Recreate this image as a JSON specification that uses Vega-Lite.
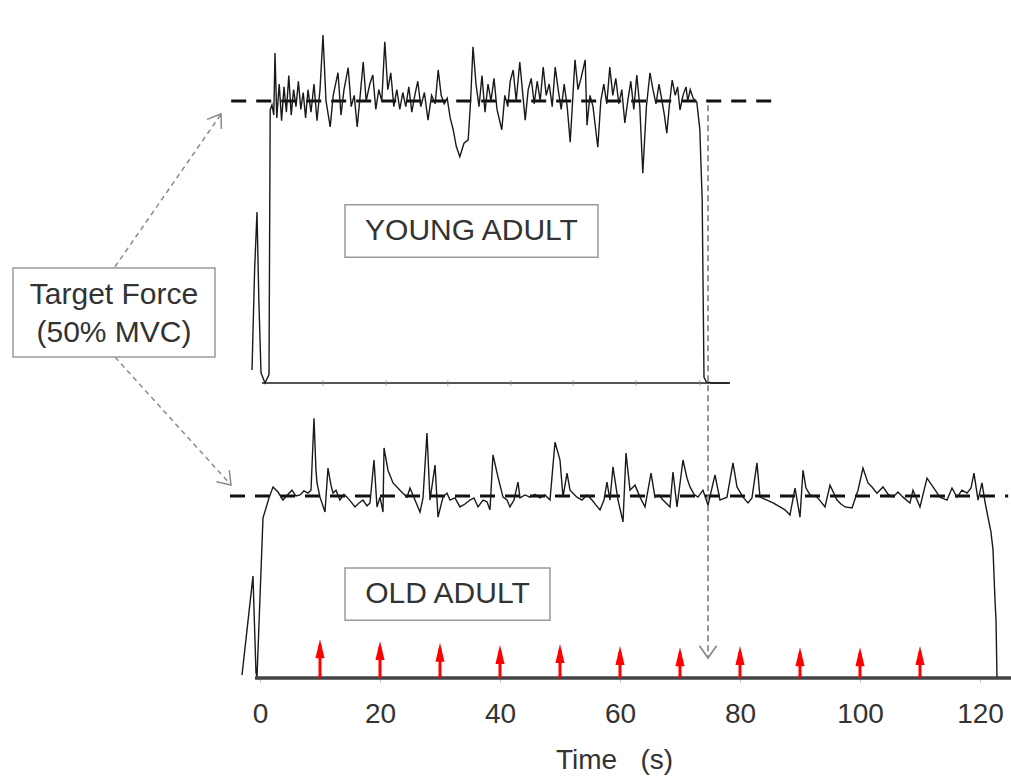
{
  "$schema": "https://vega.github.io/schema/vega-lite/v6.json",
  "width": 1011,
  "height": 678,
  "autosize": "none",
  "padding": {"left": 0, "top": 0, "right": 0, "bottom": 98},
  "background": "white",
  "config": {"view": {"stroke": null}, "font": "Liberation Sans"},
  "encoding": {
    "x": {
      "field": "t",
      "type": "quantitative",
      "scale": {"domain": [-43.333, 125.167], "nice": false, "zero": false},
      "axis": {
        "values": [0, 20, 40, 60, 80, 100, 120],
        "domain": false,
        "grid": false,
        "ticks": true,
        "tickSize": 4,
        "tickColor": "#bbbbbb",
        "labelFontSize": 28,
        "labelFont": "Liberation Sans",
        "labelColor": "#333333",
        "labelPadding": 18,
        "labelFlush": false,
        "title": "Time\u00a0\u00a0\u00a0(s)",
        "titleFont": "Liberation Sans",
        "titleFontSize": 28,
        "titleFontWeight": "normal",
        "titleColor": "#333333",
        "titleX": 614,
        "titleY": 82,
        "titleBaseline": "middle"
      }
    }
  },
  "layer": [
    {
      "encoding": {
        "y": {"field": "v", "type": "quantitative", "scale": {"domain": [-52.3, 67.9], "nice": false, "zero": false}, "axis": null}
      },
      "layer": [
        {
          "data": {"values": [{"t": 0.33, "t2": 78.3, "v": 0}]},
          "mark": {"type": "rule", "stroke": "#555555", "strokeWidth": 2},
          "encoding": {"x2": {"field": "t2"}}
        },
        {
          "data": {"values": [{"t": 10.5, "v": 0}, {"t": 21, "v": 0}, {"t": 31.3, "v": 0}, {"t": 41.8, "v": 0}, {"t": 52.2, "v": 0}, {"t": 62.7, "v": 0}, {"t": 73.3, "v": 0}]},
          "mark": {"type": "tick", "orient": "vertical", "size": 6, "thickness": 1, "color": "#888888"},
          "encoding": {}
        },
        {
          "data": {"values": [{"t": -4.8, "t2": 85.8, "v": 50}]},
          "mark": {"type": "rule", "stroke": "#111111", "strokeWidth": 3, "strokeDash": [15, 10]},
          "encoding": {"x2": {"field": "t2"}}
        },
        {
          "data": {"values": [
            {"t":-1.33,"v":2.3},{"t":-0.9,"v":20},{"t":-0.5,"v":30.3},{"t":-0.2,"v":15},{"t":0.17,"v":1.8},{"t":0.83,"v":0},{"t":1.5,"v":1.5},{"t":1.7,"v":48.4},{"t":2.0,"v":49.3},{"t":2.3,"v":47.5},{"t":2.5,"v":58.5},{"t":2.8,"v":47},{"t":3.2,"v":53},{"t":3.6,"v":46.5},{"t":4.0,"v":52.5},{"t":4.4,"v":48},{"t":4.8,"v":54.5},{"t":5.2,"v":47.5},{"t":5.6,"v":52},{"t":6.0,"v":49},{"t":6.4,"v":53.5},{"t":6.8,"v":48.5},{"t":7.2,"v":51.5},{"t":7.6,"v":47},{"t":8.0,"v":52},{"t":8.5,"v":48},{"t":9.0,"v":53},{"t":9.5,"v":46.5},{"t":10.0,"v":52},{"t":10.5,"v":61.7},{"t":11.0,"v":50},{"t":11.7,"v":45.4},{"t":12.2,"v":51},{"t":13.0,"v":55},{"t":13.5,"v":47.5},{"t":14.0,"v":52},{"t":14.7,"v":55.9},{"t":15.2,"v":49},{"t":15.7,"v":51},{"t":16.2,"v":45.4},{"t":16.7,"v":51},{"t":17.2,"v":56.9},{"t":17.7,"v":50},{"t":18.3,"v":53},{"t":18.8,"v":54.6},{"t":19.3,"v":48.5},{"t":19.8,"v":52},{"t":20.3,"v":50},{"t":20.8,"v":60.5},{"t":21.3,"v":52},{"t":21.8,"v":55},{"t":22.3,"v":49},{"t":22.8,"v":52},{"t":23.3,"v":48.5},{"t":23.8,"v":51.5},{"t":24.3,"v":49},{"t":24.8,"v":52.5},{"t":25.3,"v":48},{"t":25.8,"v":51},{"t":26.3,"v":53.5},{"t":26.8,"v":49},{"t":27.4,"v":51.5},{"t":28.0,"v":46.6},{"t":28.6,"v":51},{"t":29.2,"v":49.5},{"t":29.7,"v":55.5},{"t":30.2,"v":51},{"t":30.7,"v":49.5},{"t":31.2,"v":50.5},{"t":31.7,"v":47},{"t":32.2,"v":44.9},{"t":32.7,"v":42},{"t":33.3,"v":40.1},{"t":34.0,"v":42.5},{"t":34.7,"v":43.1},{"t":35.1,"v":50},{"t":35.5,"v":59.6},{"t":36.0,"v":53},{"t":36.5,"v":49},{"t":37.0,"v":54.5},{"t":37.5,"v":48},{"t":38.0,"v":53},{"t":38.5,"v":50},{"t":39.0,"v":54},{"t":39.5,"v":48.5},{"t":40.3,"v":44.9},{"t":40.8,"v":51},{"t":41.3,"v":49},{"t":41.7,"v":53.5},{"t":42.2,"v":55.5},{"t":42.7,"v":50},{"t":43.3,"v":56.9},{"t":44.2,"v":46.6},{"t":44.7,"v":52},{"t":45.2,"v":54},{"t":45.7,"v":49.5},{"t":46.2,"v":53.5},{"t":46.7,"v":50},{"t":47.2,"v":56},{"t":47.7,"v":51},{"t":48.2,"v":53},{"t":48.7,"v":49},{"t":49.2,"v":56},{"t":49.7,"v":52},{"t":50.2,"v":48.5},{"t":50.7,"v":53},{"t":51.2,"v":49},{"t":51.7,"v":42.7},{"t":52.1,"v":50},{"t":52.5,"v":57.3},{"t":53.0,"v":52},{"t":53.5,"v":54},{"t":54.2,"v":57.3},{"t":54.5,"v":45.7},{"t":55.0,"v":51},{"t":55.5,"v":49},{"t":56.3,"v":41.8},{"t":56.8,"v":50},{"t":57.3,"v":53},{"t":57.8,"v":49.5},{"t":58.3,"v":56},{"t":58.8,"v":51},{"t":59.3,"v":54},{"t":59.8,"v":49.5},{"t":60.3,"v":52},{"t":60.8,"v":46.1},{"t":61.3,"v":50},{"t":61.8,"v":53.5},{"t":62.3,"v":48.5},{"t":62.8,"v":54.6},{"t":63.3,"v":49},{"t":63.8,"v":37.2},{"t":64.4,"v":49},{"t":65.0,"v":55},{"t":65.5,"v":52},{"t":66.0,"v":49.5},{"t":66.5,"v":53},{"t":67.0,"v":50},{"t":67.4,"v":47.5},{"t":67.8,"v":44.3},{"t":68.3,"v":50},{"t":68.7,"v":53.7},{"t":69.2,"v":51},{"t":69.6,"v":52.5},{"t":70.0,"v":48.4},{"t":70.5,"v":51},{"t":71.0,"v":52.5},{"t":71.3,"v":50},{"t":71.7,"v":52},{"t":72.2,"v":50.5},{"t":72.8,"v":49.8},{"t":73.3,"v":45},{"t":73.7,"v":32.4},{"t":74.0,"v":1},{"t":74.4,"v":0.2},{"t":75.5,"v":0},{"t":78.3,"v":0}
          ]},
          "mark": {"type": "line", "stroke": "#1a1a1a", "strokeWidth": 1.4},
          "encoding": {}
        },
        {
          "data": {"values": [{"t": -24.17, "v": 20.6, "t2": -6.6, "v2": 47.5}, {"t": -24.17, "v": 4.6, "t2": -4.9, "v2": -18.0}]},
          "mark": {"type": "rule", "stroke": "#8a8a8a", "strokeWidth": 1.5, "strokeDash": [5, 4]},
          "encoding": {"x2": {"field": "t2"}, "y2": {"field": "v2"}}
        },
        {
          "data": {"values": [{"t": -6.5, "v": 47.7}]},
          "mark": {"type": "point", "shape": "M-0.7,-1L0,0L0.7,-1", "filled": false, "stroke": "#8a8a8a", "strokeWidth": 1.5, "size": 600, "angle": 213.6, "opacity": 1},
          "encoding": {}
        },
        {
          "data": {"values": [{"t": -4.83, "v": -18.1}]},
          "mark": {"type": "point", "shape": "M-0.7,-1L0,0L0.7,-1", "filled": false, "stroke": "#8a8a8a", "strokeWidth": 1.5, "size": 600, "angle": 318.3, "opacity": 1},
          "encoding": {}
        },
        {
          "data": {"values": [{"t": -41.17, "t2": -7.5, "v": 20.4, "v2": 4.6}, {"t": 14.17, "t2": 56.33, "v": 31.6, "v2": 22.3}]},
          "mark": {"type": "rect", "fill": "white", "stroke": "#9a9a9a", "strokeWidth": 1.5},
          "encoding": {"x2": {"field": "t2"}, "y2": {"field": "v2"}}
        },
        {
          "data": {"values": [{"t": -24.33, "v": 15.6, "label": "Target Force\n(50% MVC)"}, {"t": 35.25, "v": 26.9, "label": "YOUNG ADULT"}]},
          "mark": {"type": "text", "fontSize": 30, "font": "Liberation Sans", "color": "#333333", "align": "center", "baseline": "middle", "lineBreak": "\n", "lineHeight": 38},
          "encoding": {"text": {"field": "label"}}
        }
      ]
    },
    {
      "encoding": {
        "y": {"field": "v", "type": "quantitative", "scale": {"domain": [0, 186.3], "nice": false, "zero": false}, "axis": null}
      },
      "layer": [
        {
          "data": {"values": [{"t": -5, "t2": 124.7, "v": 50}]},
          "mark": {"type": "rule", "stroke": "#111111", "strokeWidth": 3, "strokeDash": [15, 10]},
          "encoding": {"x2": {"field": "t2"}}
        },
        {
          "data": {"values": [
            {"t":-3,"v":0.8},{"t":-1.17,"v":28},{"t":-0.67,"v":1.5},{"t":-0.5,"v":0.3},{"t":0.5,"v":44},{"t":1,"v":46.7},{"t":1.5,"v":49.5},{"t":2.17,"v":52.5},{"t":3,"v":51.1},{"t":3.83,"v":48.9},{"t":4.67,"v":50.5},{"t":5.33,"v":51.6},{"t":6,"v":50},{"t":6.67,"v":50.3},{"t":7.33,"v":51.4},{"t":8,"v":50.8},{"t":8.5,"v":51.6},{"t":9,"v":71.4},{"t":9.33,"v":57.1},{"t":9.5,"v":53.6},{"t":10,"v":49.7},{"t":10.83,"v":45.6},{"t":11.33,"v":57.7},{"t":11.83,"v":53},{"t":12.17,"v":50.8},{"t":12.67,"v":51.6},{"t":13.33,"v":48.9},{"t":14,"v":50.5},{"t":14.5,"v":49.7},{"t":15.17,"v":48.4},{"t":15.83,"v":47},{"t":16.5,"v":48.1},{"t":17.17,"v":48.9},{"t":17.83,"v":47.3},{"t":18.33,"v":48.1},{"t":19,"v":59.9},{"t":19.5,"v":47},{"t":20,"v":49.7},{"t":20.5,"v":45.6},{"t":20.67,"v":63.2},{"t":21.33,"v":57.1},{"t":22.17,"v":53.6},{"t":23.33,"v":51.6},{"t":24,"v":50.5},{"t":24.5,"v":49.7},{"t":25,"v":52.2},{"t":25.83,"v":48.9},{"t":26.67,"v":45.6},{"t":27.17,"v":49.5},{"t":27.83,"v":67.3},{"t":28.33,"v":48.9},{"t":29.17,"v":58.5},{"t":29.67,"v":44.2},{"t":30.5,"v":49.7},{"t":31.17,"v":50.8},{"t":31.67,"v":48.9},{"t":32.5,"v":49.5},{"t":33.33,"v":47},{"t":34.17,"v":47.8},{"t":35,"v":48.9},{"t":35.67,"v":49.5},{"t":36.33,"v":47},{"t":37.17,"v":48.9},{"t":37.83,"v":48.4},{"t":38.33,"v":46.2},{"t":38.83,"v":61.3},{"t":39.67,"v":55.2},{"t":40.5,"v":49.7},{"t":41.17,"v":48.9},{"t":41.67,"v":47},{"t":42.33,"v":48.9},{"t":43,"v":53.8},{"t":43.33,"v":49.5},{"t":44.17,"v":50.3},{"t":45,"v":49.7},{"t":45.83,"v":50.5},{"t":46.67,"v":49.5},{"t":47.5,"v":50.3},{"t":48.33,"v":48.9},{"t":49.17,"v":64.8},{"t":50,"v":59.9},{"t":50.5,"v":49.7},{"t":51.17,"v":56.3},{"t":51.67,"v":51.6},{"t":52.83,"v":49.7},{"t":53.67,"v":48.9},{"t":54.5,"v":50.3},{"t":55.33,"v":48.9},{"t":56,"v":47.5},{"t":56.67,"v":46.2},{"t":57.33,"v":48.9},{"t":57.83,"v":53.8},{"t":58.33,"v":48.9},{"t":58.83,"v":58},{"t":59.67,"v":48.9},{"t":60.5,"v":42.9},{"t":61,"v":61.8},{"t":61.67,"v":51.6},{"t":62.5,"v":53},{"t":63.33,"v":49.7},{"t":64.17,"v":47},{"t":65.17,"v":56.3},{"t":65.83,"v":49.7},{"t":66.5,"v":50.3},{"t":67.17,"v":48.9},{"t":68.33,"v":47},{"t":68.83,"v":56.6},{"t":69.5,"v":47},{"t":70.5,"v":59.9},{"t":71.17,"v":54.9},{"t":71.67,"v":52.5},{"t":72.33,"v":50.5},{"t":73,"v":49.7},{"t":73.83,"v":51.6},{"t":74.67,"v":47.5},{"t":75.83,"v":55.8},{"t":76.67,"v":48.9},{"t":77.83,"v":49.7},{"t":78.83,"v":59.1},{"t":79.5,"v":52.5},{"t":80.5,"v":49.7},{"t":81.33,"v":48.1},{"t":82,"v":49.5},{"t":82.83,"v":59.1},{"t":83.33,"v":49.7},{"t":84.5,"v":48.9},{"t":85.5,"v":48.1},{"t":86.67,"v":47},{"t":87.5,"v":46.2},{"t":88.33,"v":44.8},{"t":89.17,"v":52.2},{"t":90,"v":44.2},{"t":90.5,"v":57.1},{"t":91,"v":52.2},{"t":91.67,"v":50.3},{"t":92.83,"v":49.7},{"t":93.5,"v":48.4},{"t":94.17,"v":47},{"t":95,"v":53},{"t":96.17,"v":48.9},{"t":96.83,"v":47.8},{"t":97.5,"v":47},{"t":98.67,"v":46.7},{"t":99.67,"v":51.6},{"t":100.5,"v":57.7},{"t":101.33,"v":53.6},{"t":102,"v":52.5},{"t":102.83,"v":50.8},{"t":103.83,"v":52.5},{"t":104.67,"v":50.5},{"t":105.5,"v":49.7},{"t":106.33,"v":51.1},{"t":107.17,"v":49.7},{"t":108.33,"v":48.1},{"t":108.83,"v":51.6},{"t":110,"v":47},{"t":111.17,"v":54.9},{"t":112.17,"v":52.5},{"t":113.33,"v":49.7},{"t":114.5,"v":48.9},{"t":115.33,"v":52.2},{"t":116.17,"v":49.7},{"t":117,"v":51.6},{"t":117.83,"v":50.8},{"t":118.5,"v":52.2},{"t":119,"v":56.3},{"t":119.67,"v":48.9},{"t":120.33,"v":53.6},{"t":120.83,"v":48.4},{"t":121.33,"v":44.2},{"t":121.83,"v":40.1},{"t":122.17,"v":35.2},{"t":122.5,"v":21.4},{"t":122.67,"v":15.9},{"t":122.83,"v":0}
          ]},
          "mark": {"type": "line", "stroke": "#1a1a1a", "strokeWidth": 1.4},
          "encoding": {}
        },
        {
          "data": {"values": [{"t": -0.83, "t2": 125.2, "v": 0}]},
          "mark": {"type": "rule", "stroke": "#444444", "strokeWidth": 3.5},
          "encoding": {"x2": {"field": "t2"}}
        },
        {
          "data": {"values": [{"t": 10, "v": 0, "v2": 9.1}, {"t": 20, "v": 0, "v2": 8.6}, {"t": 30, "v": 0, "v2": 8.1}, {"t": 40, "v": 0, "v2": 7.5}, {"t": 50, "v": 0, "v2": 7.8}, {"t": 60, "v": 0, "v2": 7.2}, {"t": 70, "v": 0, "v2": 6.9}, {"t": 80, "v": 0, "v2": 7.2}, {"t": 90, "v": 0, "v2": 6.9}, {"t": 100, "v": 0, "v2": 6.9}, {"t": 110, "v": 0, "v2": 7.2}]},
          "layer": [
            {
              "mark": {"type": "rule", "stroke": "#ff0000", "strokeWidth": 3},
              "encoding": {"y2": {"field": "v2"}}
            },
            {
              "mark": {"type": "point", "shape": "M0,-0.3L-0.24,0.7L0.24,0.7Z", "filled": true, "fill": "#ff0000", "stroke": null, "size": 1444, "opacity": 1},
              "encoding": {"y": {"field": "v2", "type": "quantitative", "scale": {"domain": [0, 186.3], "nice": false, "zero": false}, "axis": null}}
            }
          ]
        },
        {
          "data": {"values": [{"t": 74.67, "v": 157.4, "v2": 5.6}]},
          "mark": {"type": "rule", "stroke": "#8a8a8a", "strokeWidth": 1.8, "strokeDash": [6, 4]},
          "encoding": {"y2": {"field": "v2"}}
        },
        {
          "data": {"values": [{"t": 74.67, "v": 5.5}]},
          "mark": {"type": "point", "shape": "M-0.7,-1L0,0L0.7,-1", "filled": false, "stroke": "#8a8a8a", "strokeWidth": 1.8, "size": 600, "opacity": 1},
          "encoding": {}
        },
        {
          "data": {"values": [{"t": 14.17, "t2": 48.33, "v": 30.2, "v2": 15.9}]},
          "mark": {"type": "rect", "fill": "white", "stroke": "#9a9a9a", "strokeWidth": 1.5},
          "encoding": {"x2": {"field": "t2"}, "y2": {"field": "v2"}}
        },
        {
          "data": {"values": [{"t": 31.25, "v": 23.1, "label": "OLD ADULT"}]},
          "mark": {"type": "text", "fontSize": 30, "font": "Liberation Sans", "color": "#333333", "align": "center", "baseline": "middle"},
          "encoding": {"text": {"field": "label"}}
        }
      ]
    }
  ],
  "resolve": {"scale": {"y": "independent"}}
}
